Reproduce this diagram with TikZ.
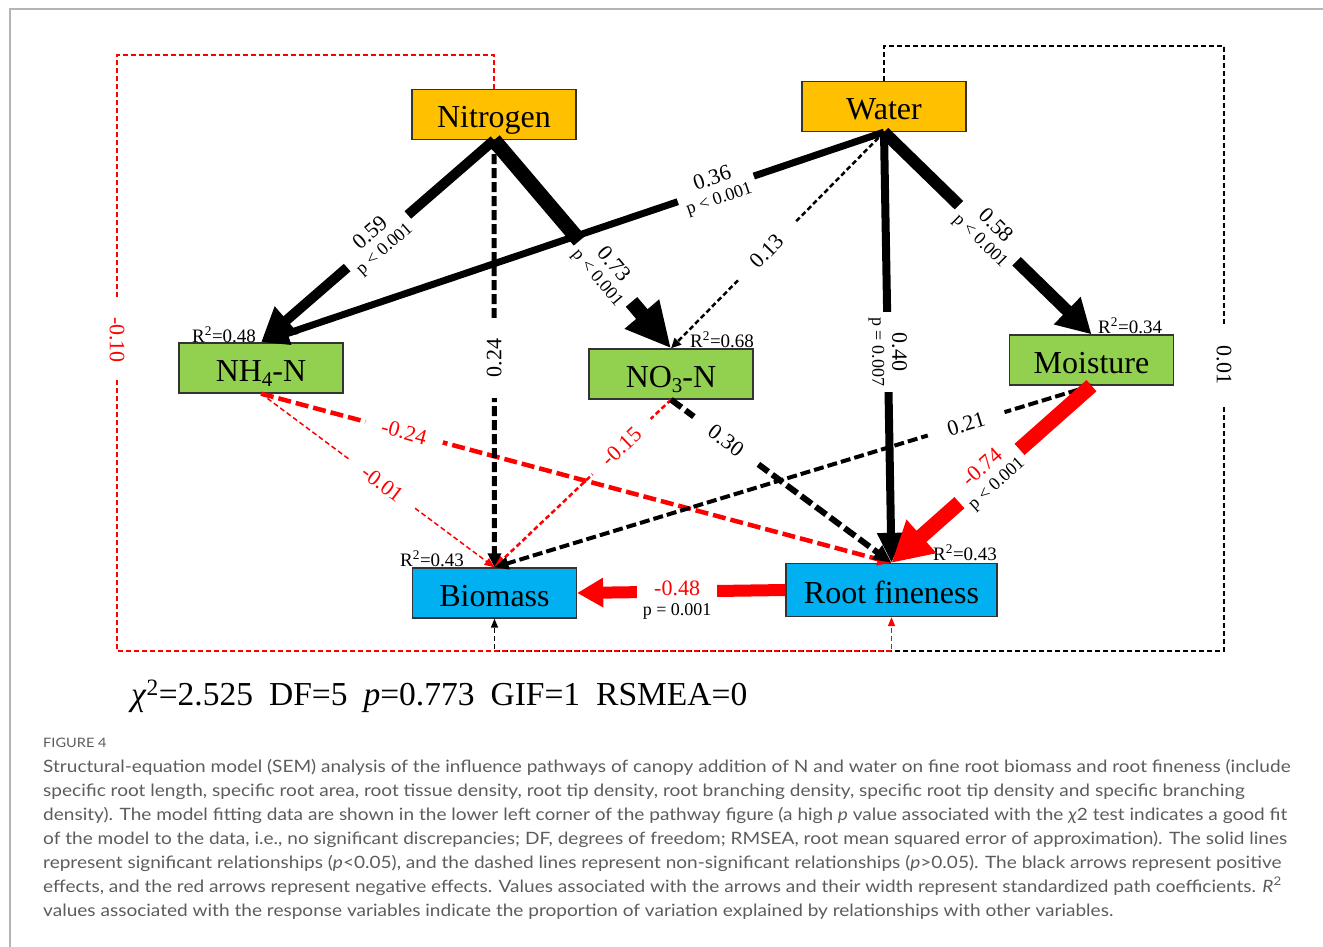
\documentclass[tikz,border=0pt]{standalone}
\usepackage{fontspec}
\setmainfont{Liberation Serif}
\newfontfamily\capfont[FakeStretch=1.12]{Lato}
\usetikzlibrary{arrows.meta}
\definecolor{orng}{HTML}{FFC000}
\definecolor{grn}{HTML}{92D050}
\definecolor{blu}{HTML}{00B0F0}
\definecolor{rd}{HTML}{FF0000}
\definecolor{capgray}{HTML}{5C5C5C}
\definecolor{framegray}{HTML}{B4B4B4}
\newcommand{\pvtext}[1]{{\fontsize{18}{18}\selectfont #1}}
\newcommand{\lowsub}[1]{\raisebox{-5pt}{\fontsize{21}{21}\selectfont #1}}
\tikzset{
  var/.style={draw=black!80, line width=1.3pt, minimum width=164pt, minimum height=50pt, inner sep=0pt, text height=27pt, text depth=0pt, font=\fontsize{32}{32}\selectfont},
  exo/.style={var, fill=orng},
  med/.style={var, fill=grn},
  resp/.style={var, fill=blu},
  rsq/.style={anchor=base west, inner sep=0pt, font=\fontsize{19}{19}\selectfont},
  lbl/.style={fill=white, inner sep=2pt, minimum width=80pt, align=center, font=\fontsize{22}{20}\selectfont},
  capline/.style={anchor=base west, inner sep=0pt, text=capgray, font=\capfont\fontsize{17}{17}\selectfont},
  tip/.style 2 args={-{Triangle[length=#1,width=#2]}},
  sdash/.style={dash pattern=on 5pt off 3pt},
  mdash/.style={dash pattern=on 10pt off 4pt},
  ldash/.style={dash pattern=on 13pt off 5pt},
}
\begin{document}
\begin{tikzpicture}[x=1pt,y=-1pt, line cap=butt]
\useasboundingbox (0,0) rectangle (1323,947);
\draw[framegray, line width=1.5pt] (10,947) -- (10,9) -- (1323,9);

% nodes
\node[exo] (n) at (494,114.5) {Nitrogen};
\node[exo] (w) at (884,106.5) {Water};
\node[med] (nh) at (261,368) {NH\lowsub{4}-N};
\node[med] (no) at (671,374) {NO\lowsub{3}-N};
\node[med] (m) at (1091.5,360) {Moisture};
\node[resp] (b) at (494.5,593) {Biomass};
\node[resp, minimum width=211pt, minimum height=53pt] (rf) at (891.5,590) {Root fineness};

\node[rsq] (r1) at (192,342) {R\textsuperscript{2}=0.48};
\node[rsq] (r2) at (690,347) {R\textsuperscript{2}=0.68};
\node[rsq] (r3) at (1098,333) {R\textsuperscript{2}=0.34};
\node[rsq] (r4) at (400,566) {R\textsuperscript{2}=0.43};
\node[rsq] (r5) at (933,560) {R\textsuperscript{2}=0.43};

\coordinate (lc) at (117,651);
\coordinate (rc) at (1224,47);

% loops
\draw[black, line width=1.5pt, sdash, tip={9pt}{7pt}] (w.north) -- ++(0,-35) -| (rc) |- (b.south |- lc) -- (b.south);
\draw[rd, line width=1.5pt, sdash, tip={9pt}{7pt}] (n.north) -- ++(0,-34) -| (lc) -| (rf.south);
\node[lbl, text=rd, rotate=-90] (l10) at (117,340) {-0.10};
\node[lbl, rotate=-90] (l01) at (1224,365) {0.01};

% thin / dashed edges
\draw[rd, line width=1.5pt, sdash, tip={10pt}{8pt}] (nh.south) -- (b.north);
\draw[rd, line width=2.5pt, sdash, tip={12pt}{10pt}] (no.south) -- (b.north);
\draw[black, line width=2.5pt, sdash, tip={10pt}{9pt}] (w.south) -- (no.north);
\draw[rd, line width=4.5pt, ldash, tip={14pt}{12pt}] (nh.south) -- (rf.north);
\draw[black, line width=4pt, mdash, tip={14pt}{12pt}] (m.south) -- (b.north);
\draw[black, line width=5pt, mdash, tip={14pt}{13pt}] (n.south) -- (b.north);
\draw[black, line width=6pt, ldash, tip={18pt}{16pt}] (no.south) -- (rf.north);

% solid edges
\draw[black, line width=10pt, tip={34pt}{34pt}] (n.south) -- (nh.north);
\draw[black, line width=15pt, tip={45pt}{42pt}] (n.south) -- (no.north);
\draw[black, line width=8pt, tip={30pt}{26pt}] (w.south) -- (rf.north);
\draw[black, line width=12pt, tip={34pt}{36pt}] (w.south) -- (m.north);
\draw[rd, line width=15pt, tip={40pt}{42pt}] (m.south) -- (rf.north);
\draw[rd, line width=12pt, tip={26pt}{28pt}] (rf.west) -- (b.east);

% labels
\path (n.south) -- (nh.north) node[lbl, pos=0.5, rotate=41.4] (e1) {0.59\\\pvtext{p < 0.001}};
\path (n.south) -- (no.north) node[lbl, pos=0.63, rotate=-49.9] (e2) {0.73\\\pvtext{p < 0.001}};
\path (n.south) -- (b.north) node[lbl, pos=0.51, rotate=90] (e3) {0.24};
\path (w.south) -- (no.north) node[lbl, pos=0.55, rotate=45.7] (e5) {0.13};
\path (w.south) -- (rf.north) node[lbl, pos=0.51, rotate=-90] (e6) {0.40\\\pvtext{p = 0.007}};
\path (w.south) -- (m.north) node[lbl, pos=0.5, rotate=-44.7] (e7) {0.58\\\pvtext{p < 0.001}};
\path (nh.south) -- (b.north) node[lbl, text=rd, pos=0.52, rotate=-36.9] (e8) {-0.01};
\path (nh.south) -- (rf.north) node[lbl, text=rd, pos=0.227, rotate=-15.1] (e9) {-0.24};
\path (no.south) -- (b.north) node[lbl, text=rd, pos=0.28, rotate=43.7] (e10) {-0.15};
\path (no.south) -- (rf.north) node[lbl, pos=0.25, rotate=-36.7] (e11) {0.30};
\path (m.south) -- (b.north) node[lbl, pos=0.21, rotate=17.2] (e12) {0.21};
\path (m.south) -- (rf.north) node[lbl, pos=0.51, rotate=41.8] (e13) {\textcolor{rd}{-0.74}\\\pvtext{p < 0.001}};
\path (rf.west) -- (b.east) node[lbl, pos=0.52, yshift=-9pt] (e14) {\textcolor{rd}{-0.48}\\\pvtext{p = 0.001}};

% Water -> NH4-N drawn above the other labels, with its own label
\draw[black, line width=7pt, tip={28pt}{22pt}] (w.south) -- (nh.north)
  node[lbl, pos=0.27, rotate=18.8] (e4) {0.36\\\pvtext{p < 0.001}};

% fit statistics
\node[anchor=base west, inner sep=0pt, font=\fontsize{33.5}{33.5}\selectfont] (fit) at (131,705) {\textit{χ}\textsuperscript{2}=2.525\hspace{16pt}DF=5\hspace{16pt}\textit{p}=0.773\hspace{16pt}GIF=1\hspace{16pt}RSMEA=0};

% caption
\node[capline, font=\capfont\fontsize{13}{13}\selectfont] (fig) at (43,747) {FIGURE 4};
\node[capline] (c1) at (43,772) {Structural-equation model (SEM) analysis of the influence pathways of canopy addition of N and water on fine root biomass and root fineness (include};
\node[capline] (c2) at (43,796) {specific root length, specific root area, root tissue density, root tip density, root branching density, specific root tip density and specific branching};
\node[capline] (c3) at (43,820) {density). The model fitting data are shown in the lower left corner of the pathway figure (a high \textit{p} value associated with the \textit{χ}2 test indicates a good fit};
\node[capline] (c4) at (43,844) {of the model to the data, i.e., no significant discrepancies; DF, degrees of freedom; RMSEA, root mean squared error of approximation). The solid lines};
\node[capline] (c5) at (43,868) {represent significant relationships (\textit{p}<0.05), and the dashed lines represent non-significant relationships (\textit{p}>0.05). The black arrows represent positive};
\node[capline] (c6) at (43,892) {effects, and the red arrows represent negative effects. Values associated with the arrows and their width represent standardized path coefficients. \textit{R}\textsuperscript{2}};
\node[capline] (c7) at (43,916) {values associated with the response variables indicate the proportion of variation explained by relationships with other variables.};
\end{tikzpicture}
\end{document}
